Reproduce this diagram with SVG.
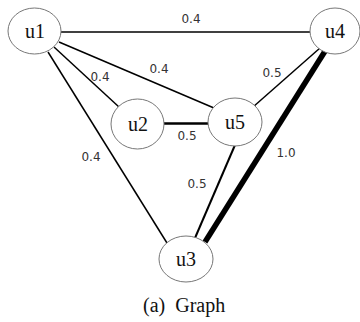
<svg xmlns="http://www.w3.org/2000/svg" width="360" height="322" viewBox="0 0 360 322">
<style>
.node ellipse{fill:#fff;stroke:#777;stroke-width:1}
.node text{font-family:"Liberation Serif",serif;font-size:20px;fill:#111;text-anchor:middle}
.edge{stroke:#000;fill:none}
.lbl{font-family:"DejaVu Sans",sans-serif;font-size:12px;fill:#333;text-anchor:middle}
.cap{font-family:"Liberation Serif",serif;font-size:20px;fill:#111}
</style>
<rect width="360" height="322" fill="#fff"/>
<g id="connectors">
<line class="edge" x1="61" y1="32" x2="310" y2="32" stroke-width="1.5"/>
<line class="edge" x1="59" y1="42" x2="214" y2="108" stroke-width="1.5"/>
<line class="edge" x1="54" y1="47" x2="119" y2="107" stroke-width="1.5"/>
<line class="edge" x1="48" y1="52" x2="167" y2="243" stroke-width="1.5"/>
<line class="edge" x1="164" y1="123.5" x2="208" y2="123.5" stroke-width="2.5"/>
<line class="edge" x1="320" y1="48" x2="253" y2="107" stroke-width="1.5"/>
<line class="edge" x1="327" y1="48" x2="205" y2="242" stroke-width="5.5"/>
<line class="edge" x1="235" y1="145" x2="195" y2="238" stroke-width="2"/>
<text class="lbl" x="191" y="23">0.4</text>
<text class="lbl" x="100" y="81">0.4</text>
<text class="lbl" x="159" y="73">0.4</text>
<text class="lbl" x="91" y="161">0.4</text>
<text class="lbl" x="187" y="140">0.5</text>
<text class="lbl" x="272" y="77">0.5</text>
<text class="lbl" x="286" y="157">1.0</text>
<text class="lbl" x="197" y="188">0.5</text>
</g>
<g id="u1" class="node"><ellipse cx="34.5" cy="31" rx="26.5" ry="23"/><text x="35" y="38">u1</text></g>
<g id="u2" class="node"><ellipse cx="137.5" cy="124" rx="26.5" ry="25"/><text x="138" y="131">u2</text></g>
<g id="u4" class="node"><ellipse cx="335" cy="31" rx="25" ry="23"/><text x="335" y="38">u4</text></g>
<g id="u5" class="node"><ellipse cx="235" cy="122" rx="27" ry="24"/><text x="235" y="129">u5</text></g>
<g id="u3" class="node"><ellipse cx="186" cy="259" rx="27" ry="23"/><text x="186" y="266">u3</text></g>
<text class="cap" x="143" y="312" xml:space="preserve">(a)  Graph</text>
</svg>
